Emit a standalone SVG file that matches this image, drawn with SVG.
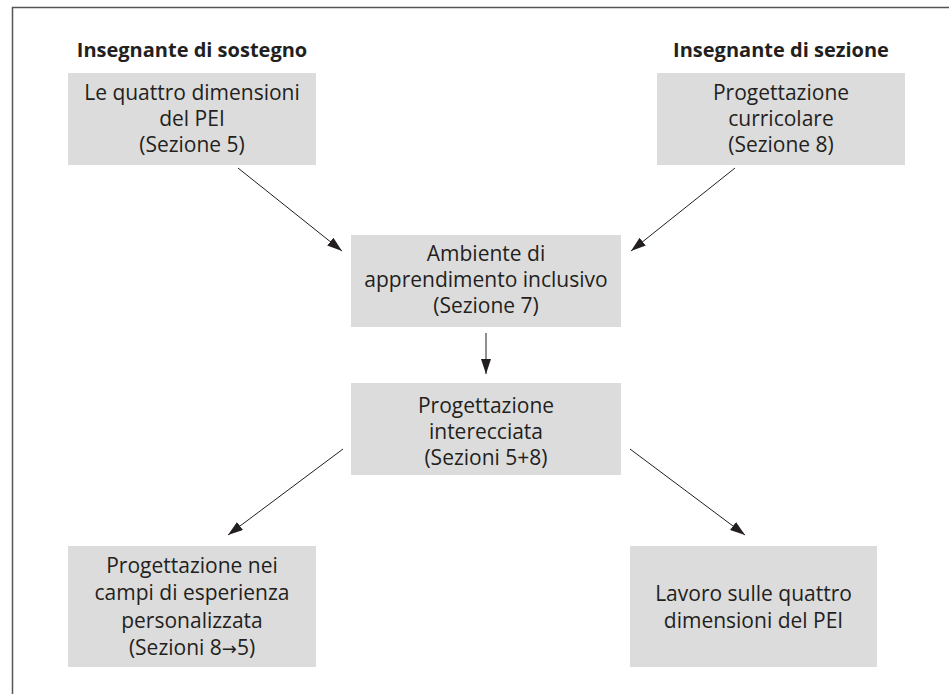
<svg xmlns="http://www.w3.org/2000/svg" width="949" height="694" viewBox="0 0 949 694">
<defs>
<style>
.frame{fill:none;stroke:#555;stroke-width:1.5}
.box{fill:#dcdcdc}
.t{font-family:"Open Sans","Liberation Sans",sans-serif;font-size:21px;fill:#231f20;text-anchor:middle}
.h{font-family:"Open Sans","Liberation Sans",sans-serif;font-size:20px;font-weight:bold;fill:#231f20;text-anchor:middle}
.ar{font-family:"DejaVu Sans",sans-serif;font-size:18px}
.c{stroke:#231f20;stroke-width:1;fill:none;marker-end:url(#ah)}
</style>
<marker id="ah" viewBox="0 0 15 10" refX="15" refY="5" markerWidth="15" markerHeight="10" markerUnits="userSpaceOnUse" orient="auto">
<path d="M0,0 L15,5 L0,10 Z" fill="#231f20"/>
</marker>
</defs>
<path class="frame" d="M12.5,694 V7.5 H949"/>
<text class="h" x="192" y="57">Insegnante di sostegno</text>
<text class="h" x="781" y="57">Insegnante di sezione</text>
<g id="n1"><rect class="box" x="68" y="73" width="248" height="92"/>
<text class="t" x="192" y="100">Le quattro dimensioni</text>
<text class="t" x="192" y="126">del PEI</text>
<text class="t" x="192" y="152">(Sezione 5)</text></g>
<g id="n2"><rect class="box" x="657" y="73" width="248" height="92"/>
<text class="t" x="781" y="100">Progettazione</text>
<text class="t" x="781" y="126">curricolare</text>
<text class="t" x="781" y="152">(Sezione 8)</text></g>
<g id="n3"><rect class="box" x="351" y="235" width="270" height="92"/>
<text class="t" x="486" y="261">Ambiente di</text>
<text class="t" x="486" y="287">apprendimento inclusivo</text>
<text class="t" x="486" y="313">(Sezione 7)</text></g>
<g id="n4"><rect class="box" x="351" y="383" width="270" height="92"/>
<text class="t" x="486" y="413">Progettazione</text>
<text class="t" x="486" y="439">interecciata</text>
<text class="t" x="486" y="465">(Sezioni 5+8)</text></g>
<g id="n5"><rect class="box" x="68" y="546" width="248" height="121"/>
<text class="t" x="192" y="573">Progettazione nei</text>
<text class="t" x="192" y="600">campi di esperienza</text>
<text class="t" x="192" y="628">personalizzata</text>
<text class="t" x="192" y="655">(Sezioni 8<tspan class="ar">→</tspan>5)</text></g>
<g id="n6"><rect class="box" x="630" y="546" width="247" height="121"/>
<text class="t" x="753.5" y="601">Lavoro sulle quattro</text>
<text class="t" x="753.5" y="628">dimensioni del PEI</text></g>
<g id="connectors">
<line class="c" x1="238" y1="168" x2="342" y2="251"/>
<line class="c" x1="735" y1="168" x2="631" y2="251"/>
<line class="c" x1="486" y1="333" x2="486" y2="374"/>
<line class="c" x1="343" y1="449" x2="228" y2="535"/>
<line class="c" x1="630" y1="449" x2="745" y2="535"/>
</g>
</svg>
